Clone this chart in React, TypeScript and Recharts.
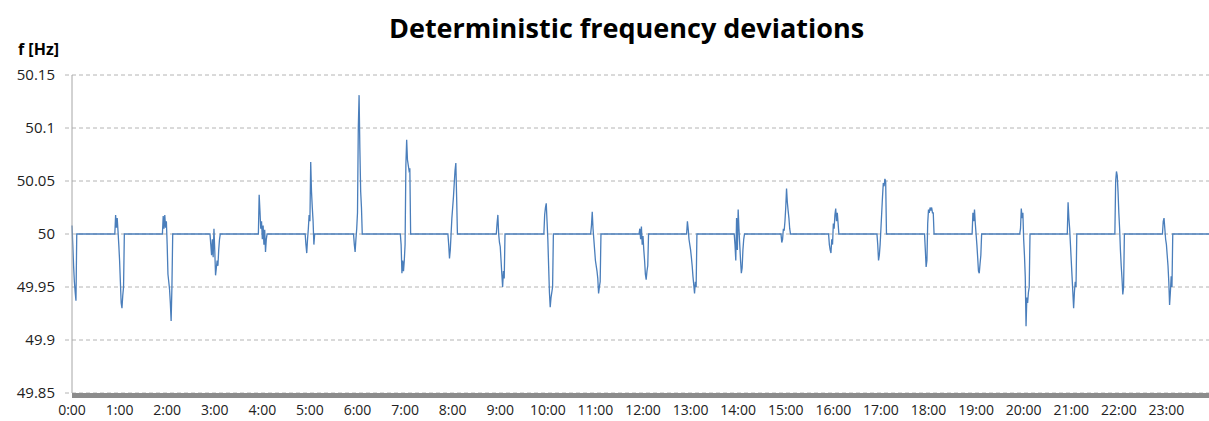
import React from 'react';
import { LineChart, Line, XAxis, YAxis, CartesianGrid } from 'recharts';

// tick labels
const hourLabels = [
  '0:00', '1:00', '2:00', '3:00', '4:00', '5:00', '6:00', '7:00', '8:00', '9:00', '10:00', '11:00',
  '12:00', '13:00', '14:00', '15:00', '16:00', '17:00', '18:00', '19:00', '20:00', '21:00', '22:00', '23:00',
];
const freqTicks = [49.85, 49.9, 49.95, 50, 50.05, 50.1, 50.15];

// minutes relative to each full hour where the frequency moves off 50 Hz
const offsets = [-6, -5, -4, -3, -2, -1, 0, 1, 2, 3, 4, 5, 6, 7, 8];

// f [Hz] at those offsets, one list per hour
const h00 = [50, 50, 50, 50, 50, 50, 50.008, 49.99, 49.97, 49.955, 49.945, 49.937, 50, 50, 50];
const h01 = [50, 50.018, 50.006, 50.015, 50.003, 49.99, 49.975, 49.955, 49.935, 49.93, 49.942, 49.95, 50, 50, 50];
const h02 = [50, 50.017, 50.005, 50.018, 50.006, 50.012, 49.99, 49.962, 49.955, 49.948, 49.935, 49.918, 49.95, 50, 50];
const h03 = [50, 49.99, 49.98, 49.995, 49.978, 50.005, 49.985, 49.961, 49.968, 49.975, 49.97, 49.985, 49.995, 50, 50];
const h04 = [50, 50, 50.037, 50.022, 50.005, 50.012, 49.995, 50.008, 49.99, 50.004, 49.983, 49.995, 50, 50, 50];
const h05 = [50, 49.99, 49.982, 49.995, 50.005, 50.018, 50.012, 50.068, 50.04, 50.025, 50.012, 49.99, 50, 50, 50];
const h06 = [50, 50, 49.99, 49.983, 49.995, 50.005, 50.02, 50.1, 50.131, 50.08, 50.04, 50.025, 50, 50, 50];
const h07 = [50, 49.99, 49.963, 49.975, 49.965, 49.975, 49.99, 50.065, 50.089, 50.07, 50.065, 50.06, 50.062, 50, 50];
const h08 = [50, 49.99, 49.977, 49.985, 50, 50.015, 50.025, 50.035, 50.048, 50.06, 50.067, 50.035, 50, 50, 50];
const h09 = [50, 50, 50.01, 50.018, 50, 49.992, 49.988, 49.975, 49.962, 49.95, 49.965, 49.958, 50, 50, 50];
const h10 = [50, 50, 50.018, 50.025, 50.029, 50.012, 49.995, 49.97, 49.945, 49.931, 49.94, 49.945, 49.95, 50, 50];
const h11 = [50, 50.008, 50.021, 50.005, 49.995, 49.985, 49.975, 49.97, 49.965, 49.958, 49.944, 49.95, 49.955, 50, 50];
const h12 = [50, 50, 50.005, 49.995, 50.007, 49.99, 49.998, 49.985, 49.975, 49.962, 49.957, 49.965, 49.97, 50, 50];
const h13 = [50, 50, 50.012, 50.005, 49.995, 49.99, 49.985, 49.978, 49.97, 49.96, 49.952, 49.944, 49.955, 49.95, 50];
const h14 = [50, 50, 49.99, 49.975, 50.015, 49.985, 50.023, 50.005, 49.99, 49.975, 49.963, 49.968, 49.985, 49.995, 50];
const h15 = [50, 49.992, 49.995, 50.005, 50.003, 50.012, 50.025, 50.043, 50.03, 50.022, 50.015, 50.005, 50, 50, 50];
const h16 = [50, 49.99, 49.985, 49.982, 49.995, 49.99, 50.01, 50.005, 50.018, 50.024, 50.012, 50.02, 50.01, 50, 50];
const h17 = [50, 50, 49.99, 49.975, 49.98, 49.99, 50.005, 50.02, 50.035, 50.048, 50.045, 50.052, 50.05, 50, 50];
const h18 = [50, 50, 49.985, 49.969, 49.975, 50.01, 50.023, 50.02, 50.025, 50.022, 50.025, 50.02, 50.02, 50, 50];
const h19 = [50, 50, 50.02, 50.012, 50.023, 50.01, 50, 49.99, 49.978, 49.965, 49.963, 49.972, 49.98, 50, 50];
const h20 = [50, 50, 50.005, 50.024, 50.015, 50.02, 49.995, 49.98, 49.96, 49.913, 49.94, 49.935, 49.945, 49.95, 50];
const h21 = [50, 50, 50.03, 50.015, 50.005, 49.99, 49.975, 49.96, 49.945, 49.93, 49.945, 49.955, 49.95, 50, 50];
const h22 = [50, 50, 50.05, 50.059, 50.055, 50.04, 50.02, 50.005, 49.985, 49.97, 49.958, 49.943, 49.95, 50, 50];
const h23 = [50, 50, 50.012, 50.015, 50.005, 49.995, 49.99, 49.98, 49.97, 49.955, 49.933, 49.945, 49.96, 49.95, 50];

const bursts = [h00, h01, h02, h03, h04, h05, h06, h07, h08, h09, h10, h11,
  h12, h13, h14, h15, h16, h17, h18, h19, h20, h21, h22, h23];

// flat 50 Hz between the bursts comes from joining the end points
const data: { t: number; f: number }[] = [];
bursts.forEach((vals, h) => {
  offsets.forEach((off, i) => {
    const t = h * 60 + off;
    if (t >= 0) data.push({ t, f: vals[i] });
  });
});
data.push({ t: 1440, f: 50 });

const font = '"Open Sans", sans-serif';

export default function App() {
  return (
    <div style={{ position: 'absolute', left: 0, top: 0, width: 1209, height: 421, overflow: 'hidden', background: '#fff', fontFamily: font }}>
      <div style={{ position: 'absolute', left: 0, width: 1253, top: 14, textAlign: 'center', fontSize: 27, fontWeight: 700, lineHeight: 1, color: '#000' }}>
        Deterministic frequency deviations
      </div>
      <div style={{ position: 'absolute', left: 18, top: 41, fontSize: 16, fontWeight: 700, lineHeight: 1, color: '#000' }}>
        f [Hz]
      </div>
      <LineChart width={1214} height={421} data={data} margin={{ top: 75, right: 0, bottom: 0, left: 0 }}>
        <CartesianGrid vertical={false} stroke="#b4b4b4" strokeDasharray="4 3" />
        <XAxis
          dataKey="t"
          type="number"
          domain={[0, 1440]}
          ticks={hourLabels.map((_, i) => i * 60)}
          tickFormatter={(v: number) => hourLabels[v / 60]}
          interval={0}
          height={28}
          axisLine={{ stroke: '#8c8c8c', strokeWidth: 5, transform: 'translate(0,2.5)' }}
          tickLine={false}
          tickSize={0}
          tickMargin={12}
          tick={{ fontSize: 14, fill: '#222', fontFamily: font }}
        />
        <YAxis
          type="number"
          domain={[49.85, 50.15]}
          ticks={freqTicks}
          interval={0}
          width={72}
          axisLine={{ stroke: '#a6a6a6' }}
          tickLine={{ stroke: '#b4b4b4', strokeDasharray: '4 3' }}
          tickSize={7}
          tickMargin={10}
          tick={{ fontSize: 15, fill: '#222', fontFamily: font }}
        />
        <Line
          type="linear"
          dataKey="f"
          stroke="#4a7ebb"
          strokeWidth={1.3}
          dot={false}
          activeDot={false}
          isAnimationActive={false}
        />
      </LineChart>
    </div>
  );
}
